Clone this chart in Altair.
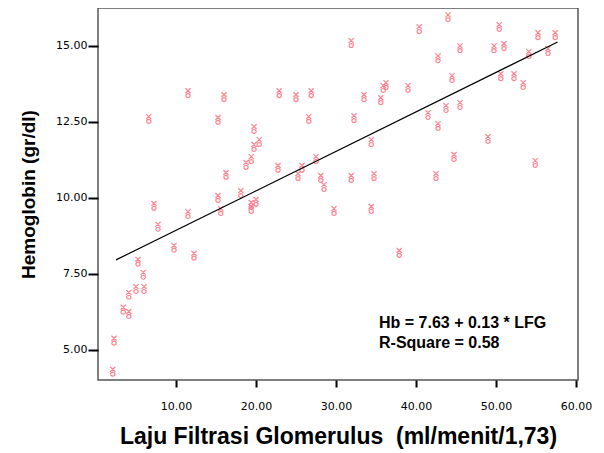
import altair as alt
import pandas as pd

# LFG (x) and Hb (y)
lfg = [6.6, 11.5, 16.0, 15.25, 19.75, 20.4, 19.75, 19.4, 18.75, 16.25,
       22.75, 25.75, 25.25, 27.5, 28.1, 28.5, 22.9, 25.0, 26.9, 26.6,
       31.9, 15.25, 18.1, 31.9, 44.0, 40.4, 50.4, 55.25, 57.4, 45.5,
       49.75, 51.0, 42.75, 54.1, 56.5, 44.5, 50.6, 52.25, 53.4, 36.25,
       35.9, 39.0, 33.5, 35.6, 32.25, 41.5, 43.75, 45.5, 42.75, 34.4,
       49.0, 44.75, 54.9, 34.75, 42.5, 7.25, 11.5, 15.6, 19.4, 19.4,
       20.0, 29.75, 7.75, 9.75, 12.25, 5.25, 5.9, 5.0, 6.0, 4.1,
       3.4, 4.1, 2.25, 2.1, 34.4, 37.9]
hb = [12.6, 13.45, 13.32, 12.57, 12.27, 11.84, 11.68, 11.28, 11.09, 10.76,
      10.99, 10.99, 10.72, 11.28, 10.66, 10.36, 13.45, 13.32, 13.45, 12.6,
      15.1, 10.0, 10.16, 10.66, 15.95, 15.56, 15.63, 15.36, 15.36, 14.93,
      14.93, 15.0, 14.6, 14.74, 14.84, 13.95, 14.01, 14.01, 13.72, 13.72,
      13.62, 13.62, 13.32, 13.22, 12.63, 12.73, 12.96, 13.06, 12.37, 11.84,
      11.94, 11.35, 11.15, 10.72, 10.72, 9.74, 9.47, 9.57, 9.77, 9.64,
      9.87, 9.57, 9.05, 8.36, 8.1, 7.9, 7.47, 7.0, 7.0, 6.81,
      6.32, 6.18, 5.3, 4.28, 9.64, 8.19]

# Fitted regression line (from the reference equation) and its x range
intercept = 7.63
slope = 0.13
fit_x = [2.5, 57.7]
fit_y = [intercept + slope * v for v in fit_x]

eq_line1 = "Hb = 7.63 + 0.13 * LFG"
eq_line2 = "R-Square = 0.58"

x_ticks = [10, 20, 30, 40, 50, 60]
y_ticks = [5, 7.5, 10, 12.5, 15]

pts = pd.DataFrame({"LFG": lfg, "Hb": hb})
fit = pd.DataFrame({"LFG": fit_x, "Hb": fit_y})
ann1 = pd.DataFrame({"t": [eq_line1]})
ann2 = pd.DataFrame({"t": [eq_line2]})

FONT = "Liberation Sans"
TICKFONT = "DejaVu Sans"

xs = alt.Scale(domain=[0.25, 60.25], nice=False, zero=False)
ys = alt.Scale(domain=[4.0, 16.25], nice=False, zero=False)

xenc = alt.X("LFG:Q", scale=xs,
             axis=alt.Axis(values=x_ticks, format=".2f", grid=False,
                           title="Laju Filtrasi Glomerulus\u00a0\u00a0(ml/menit/1,73)",
                           titleFont=FONT, titleFontSize=23, titleFontWeight="bold",
                           titleColor="black", titlePadding=14,
                           labelFont=TICKFONT, labelFontSize=11, labelColor="black",
                           labelPadding=13, tickSize=7, tickWidth=2, tickColor="black",
                           domain=False))
yenc = alt.Y("Hb:Q", scale=ys,
             axis=alt.Axis(values=y_ticks, format=".2f", grid=False,
                           title="Hemoglobin (gr/dl)",
                           titleFont=FONT, titleFontSize=19, titleFontWeight="bold",
                           titleColor="black", titlePadding=17,
                           labelFont=TICKFONT, labelFontSize=11, labelColor="black",
                           labelPadding=1, tickSize=10, tickWidth=2, tickColor="black",
                           domain=False))

marker = ("M-0.55,-1 L0.55,0.05 M0.55,-1 L-0.55,0.05 "
          "M0.45,0.55 A0.45,0.42 0 1 1 -0.45,0.55 A0.45,0.42 0 1 1 0.45,0.55")

points = alt.Chart(pts).mark_point(
    shape=marker, size=90, filled=False, color="#ff7585", strokeWidth=1.2, opacity=0.9
).encode(x=xenc, y=yenc)

line = alt.Chart(fit).mark_line(color="black", strokeWidth=1.2).encode(
    x=alt.X("LFG:Q", scale=xs), y=alt.Y("Hb:Q", scale=ys))

text1 = alt.Chart(ann1).mark_text(
    align="left", baseline="middle", font=FONT, fontSize=16, fontWeight="bold",
    color="black"
).encode(x=alt.value(281), y=alt.value(315), text="t:N")
text2 = alt.Chart(ann2).mark_text(
    align="left", baseline="middle", font=FONT, fontSize=16, fontWeight="bold",
    color="black"
).encode(x=alt.value(281), y=alt.value(335), text="t:N")

chart = alt.layer(points, line, text1, text2).properties(
    width=480, height=372,
    autosize=alt.AutoSizeParams(type="none"),
    padding={"left": 90, "top": 0, "right": 18, "bottom": 72},
).configure_view(stroke="#555555", strokeWidth=1.5)

chart.save("out.html", embed_options={"renderer": "svg", "actions": False})
